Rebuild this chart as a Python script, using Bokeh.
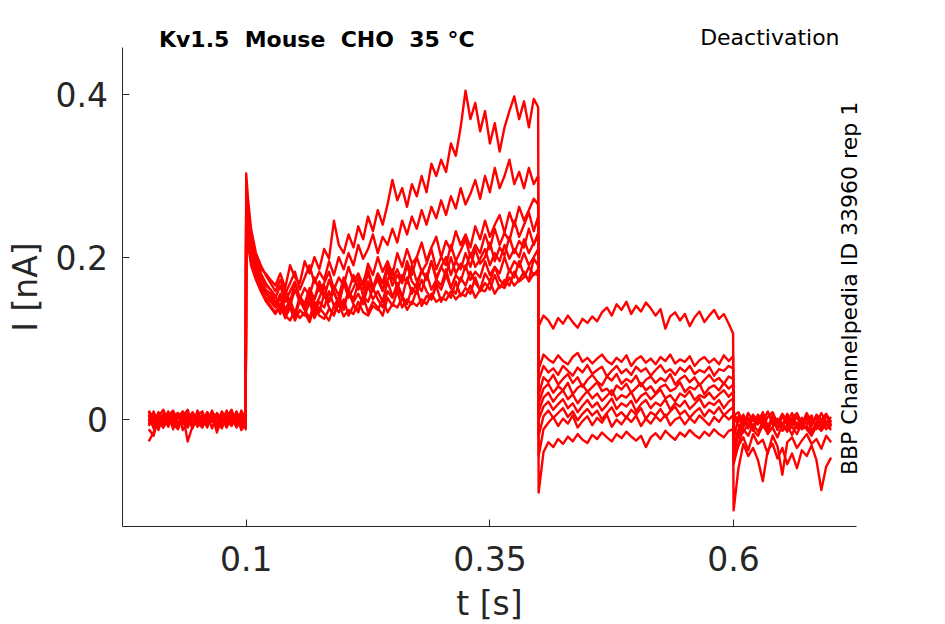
import math
from bokeh.plotting import figure
from bokeh.models import Range1d, FixedTicker, NumeralTickFormatter, Label
from bokeh.embed import file_html
from bokeh.resources import INLINE

# ---------------- time grid [s] ----------------
t_base = [0.000, 0.005, 0.010, 0.015, 0.020, 0.025, 0.030, 0.035, 0.040, 0.045, 0.050,
          0.055, 0.060, 0.065, 0.070, 0.075, 0.080, 0.085, 0.090, 0.095, 0.0995]
t_step = [0.100, 0.102, 0.105, 0.110, 0.115, 0.120, 0.125, 0.130, 0.135, 0.140, 0.145,
          0.150, 0.155, 0.160, 0.165, 0.170, 0.175, 0.180, 0.185, 0.190, 0.195, 0.200,
          0.205, 0.210, 0.215, 0.220, 0.225, 0.230, 0.235, 0.240, 0.245, 0.250, 0.255,
          0.260, 0.265, 0.270, 0.275, 0.280, 0.285, 0.290, 0.295, 0.300, 0.305, 0.310,
          0.315, 0.320, 0.325, 0.330, 0.335, 0.340, 0.345, 0.350, 0.355, 0.360, 0.365,
          0.370, 0.375, 0.380, 0.385, 0.390, 0.395, 0.3995]
t_tail = [0.400, 0.405, 0.410, 0.415, 0.420, 0.425, 0.430, 0.435, 0.440, 0.445, 0.450,
          0.455, 0.460, 0.465, 0.470, 0.475, 0.480, 0.485, 0.490, 0.495, 0.500, 0.505,
          0.510, 0.515, 0.520, 0.525, 0.530, 0.535, 0.540, 0.545, 0.550, 0.555, 0.560,
          0.565, 0.570, 0.575, 0.580, 0.585, 0.590, 0.595, 0.5995]
t_post = [0.600, 0.605, 0.610, 0.615, 0.620, 0.625, 0.630, 0.635, 0.640, 0.645, 0.650,
          0.655, 0.660, 0.665, 0.670, 0.675, 0.680, 0.685, 0.690, 0.695, 0.700]
t_s = t_base + t_step + t_tail + t_post

# ---------------- current sweeps [nA] (baseline / step / tail / after) ----------------
sweep_01 = [0.004, -0.007, 0.009, -0.002, 0.006, -0.009, 0.003, 0.010, -0.005, 0.001, -0.008,
            0.007, -0.003, 0.011, -0.006, 0.002, -0.010, 0.005, -0.001, 0.008, -0.004,
            0.27, 0.255, 0.225, 0.2, 0.185, 0.18, 0.172, 0.165, 0.18, 0.162, 0.19, 0.175, 0.168,
            0.195, 0.18, 0.2, 0.185, 0.21, 0.198, 0.245, 0.215, 0.205, 0.228, 0.212, 0.238, 0.222,
            0.25, 0.232, 0.258, 0.24, 0.265, 0.295, 0.27, 0.285, 0.262, 0.29, 0.275, 0.3, 0.28,
            0.315, 0.3, 0.32, 0.305, 0.34, 0.325, 0.36, 0.405, 0.37, 0.39, 0.355, 0.38, 0.34,
            0.365, 0.33, 0.36, 0.38, 0.398, 0.37, 0.392, 0.36, 0.395, 0.385,
            0.115, 0.128, 0.122, 0.112, 0.125, 0.118, 0.128, 0.12, 0.113, 0.124, 0.119, 0.127,
            0.121, 0.132, 0.138, 0.128, 0.142, 0.135, 0.145, 0.13, 0.14, 0.133, 0.144, 0.137,
            0.128, 0.136, 0.112, 0.127, 0.132, 0.122, 0.13, 0.115, 0.126, 0.133, 0.12, 0.128,
            0.135, 0.124, 0.13, 0.118, 0.106,
            -0.025, 0.004, -0.006, 0.008, -0.002, 0.005, -0.009, 0.003, 0.009, -0.004, 0.006,
            -0.007, 0.002, 0.008, -0.005, 0.004, -0.008, 0.006, -0.001, 0.007, -0.003]
sweep_02 = [-0.006, 0.008, -0.001, -0.010, 0.005, 0.011, -0.004, 0.002, -0.009, 0.006, 0.000,
            -0.007, 0.009, -0.002, 0.004, -0.011, 0.007, -0.005, 0.010, -0.003, 0.006,
            0.303, 0.27, 0.235, 0.205, 0.19, 0.178, 0.168, 0.158, 0.172, 0.155, 0.168, 0.182,
            0.16, 0.175, 0.19, 0.168, 0.182, 0.172, 0.195, 0.178, 0.2, 0.185, 0.205, 0.19, 0.215,
            0.198, 0.21, 0.228, 0.205, 0.225, 0.215, 0.235, 0.218, 0.245, 0.228, 0.25, 0.235,
            0.258, 0.24, 0.262, 0.248, 0.27, 0.252, 0.275, 0.26, 0.285, 0.265, 0.278, 0.295,
            0.272, 0.3, 0.28, 0.31, 0.285, 0.3, 0.32, 0.29, 0.305, 0.285, 0.31, 0.29, 0.3,
            0.062, 0.08, 0.074, 0.07, 0.079, 0.072, 0.068, 0.077, 0.082, 0.071, 0.076, 0.069,
            0.075, 0.08, 0.072, 0.068, 0.076, 0.071, 0.079, 0.066, 0.074, 0.078, 0.07, 0.075,
            0.068, 0.077, 0.072, 0.08, 0.069, 0.074, 0.071, 0.078, 0.066, 0.073, 0.077, 0.07,
            0.075, 0.068, 0.079, 0.072, 0.078,
            -0.035, -0.012, 0.003, -0.007, 0.006, -0.004, 0.009, -0.01, 0.002, -0.005, 0.007,
            -0.002, -0.009, 0.005, -0.006, 0.008, -0.003, 0.001, -0.008, 0.004, -0.004]
sweep_03 = [0.009, -0.002, 0.005, -0.008, -0.003, 0.007, -0.010, 0.004, 0.012, -0.006, 0.003,
            -0.009, 0.001, 0.006, -0.012, 0.008, -0.004, 0.003, -0.007, 0.011, -0.001,
            0.25, 0.24, 0.21, 0.19, 0.175, 0.165, 0.16,
            0.15, 0.165, 0.145, 0.158, 0.17, 0.148, 0.162, 0.152, 0.175, 0.158, 0.168, 0.182,
            0.16, 0.175, 0.165, 0.188, 0.17, 0.18, 0.165, 0.192, 0.178, 0.2, 0.182, 0.195, 0.178,
            0.205, 0.188, 0.21, 0.192, 0.2, 0.218, 0.195, 0.212, 0.225, 0.2, 0.22, 0.208, 0.232,
            0.215, 0.228, 0.212, 0.238, 0.222, 0.245, 0.225, 0.24, 0.252, 0.23, 0.255, 0.238,
            0.262, 0.245, 0.258, 0.272, 0.265,
            0.048, 0.066, 0.058, 0.063, 0.055, 0.066, 0.06, 0.054, 0.064, 0.058, 0.067, 0.056,
            0.061, 0.065, 0.053, 0.06, 0.066, 0.057, 0.062, 0.055, 0.065, 0.059, 0.063, 0.054,
            0.061, 0.067, 0.058, 0.062, 0.055, 0.064, 0.059, 0.066, 0.056, 0.061, 0.058, 0.065,
            0.054, 0.062, 0.06, 0.066, 0.063,
            0.005, 0.009, -0.004, 0.002, -0.01, 0.006, -0.003, 0.01, -0.006, 0.001, -0.008,
            0.007, -0.002, 0.004, -0.011, 0.005, 0.0, -0.006, 0.008, -0.004, 0.003]
sweep_04 = [-0.012, -0.020, 0.003, -0.005, 0.008, -0.002, -0.011, 0.006, -0.027, -0.008, 0.004,
            -0.006, 0.009, -0.003, 0.002, -0.010, 0.005, -0.001, 0.007, -0.009, 0.003,
            0.26, 0.245, 0.215, 0.185, 0.17, 0.16, 0.155,
            0.145, 0.132, 0.152, 0.14, 0.16, 0.145, 0.138, 0.158, 0.148, 0.165, 0.15, 0.172,
            0.155, 0.145, 0.168, 0.158, 0.178, 0.16, 0.17, 0.185, 0.162, 0.18, 0.168, 0.19, 0.172,
            0.185, 0.17, 0.195, 0.178, 0.2, 0.182, 0.192, 0.21, 0.185, 0.2, 0.19, 0.215, 0.195,
            0.208, 0.222, 0.2, 0.215, 0.205, 0.228, 0.21, 0.235, 0.215, 0.23, 0.22, 0.245, 0.225,
            0.24, 0.255, 0.232, 0.25,
            0.03, 0.052, 0.046, 0.055, 0.043, 0.05, 0.056, 0.045, 0.052, 0.04, 0.049, 0.055,
            0.047, 0.042, 0.053, 0.048, 0.056, 0.044, 0.05, 0.046, 0.054, 0.041, 0.049, 0.053,
            0.045, 0.051, 0.047, 0.056, 0.043, 0.05, 0.054, 0.046, 0.052, 0.042, 0.049, 0.055,
            0.047, 0.051, 0.044, 0.053, 0.05,
            -0.045, -0.018, -0.002, -0.009, 0.004, -0.006, 0.002, -0.012, 0.005, -0.003, -0.009,
            0.003, -0.006, 0.006, -0.01, 0.001, -0.005, 0.004, -0.011, -0.002, -0.006]
sweep_05 = [0.011, 0.001, -0.006, 0.007, -0.009, 0.004, 0.008, -0.003, 0.002, -0.011, 0.006,
            0.010, -0.005, 0.000, 0.007, -0.008, 0.003, 0.012, -0.006, 0.004, -0.002,
            0.24, 0.225, 0.2, 0.18, 0.165, 0.155, 0.148,
            0.14, 0.155, 0.135, 0.148, 0.13, 0.152, 0.142, 0.16, 0.138, 0.15, 0.165, 0.145,
            0.158, 0.14, 0.168, 0.15, 0.162, 0.175, 0.152, 0.17, 0.158, 0.178, 0.16, 0.172, 0.185,
            0.162, 0.178, 0.168, 0.19, 0.17, 0.182, 0.175, 0.195, 0.172, 0.188, 0.2, 0.178, 0.195,
            0.185, 0.205, 0.188, 0.21, 0.192, 0.2, 0.218, 0.195, 0.212, 0.202, 0.225, 0.205, 0.22,
            0.212, 0.235, 0.215, 0.23,
            0.02, 0.038, 0.044, 0.033, 0.041, 0.036, 0.045, 0.031, 0.039, 0.043, 0.034, 0.04,
            0.046, 0.035, 0.038, 0.03, 0.042, 0.037, 0.044, 0.033, 0.039, 0.045, 0.036, 0.041,
            0.032, 0.04, 0.043, 0.035, 0.038, 0.046, 0.034, 0.04, 0.037, 0.044, 0.031, 0.039,
            0.042, 0.036, 0.045, 0.038, 0.043,
            0.008, -0.003, 0.006, -0.011, 0.003, -0.005, 0.007, -0.008, 0.001, -0.013, 0.004,
            -0.004, 0.008, -0.009, 0.002, -0.006, 0.005, -0.012, 0.0, 0.006, -0.008]
sweep_06 = [-0.003, 0.010, -0.008, 0.002, 0.006, -0.005, -0.012, 0.009, -0.001, 0.005, -0.007,
            0.003, -0.010, 0.008, 0.004, -0.003, 0.011, -0.006, 0.001, -0.009, 0.008,
            0.28, 0.26, 0.22, 0.195, 0.18, 0.168, 0.16,
            0.152, 0.138, 0.16, 0.145, 0.168, 0.15, 0.142, 0.162, 0.148, 0.17, 0.155, 0.145,
            0.165, 0.152, 0.175, 0.158, 0.148, 0.168, 0.16, 0.18, 0.162, 0.172, 0.158, 0.185,
            0.165, 0.178, 0.168, 0.19, 0.17, 0.162, 0.185, 0.172, 0.195, 0.175, 0.188, 0.178, 0.2,
            0.18, 0.192, 0.185, 0.205, 0.188, 0.198, 0.21, 0.19, 0.205, 0.195, 0.215, 0.198, 0.21,
            0.2, 0.222, 0.205, 0.218, 0.225,
            0.01, 0.027, 0.033, 0.022, 0.03, 0.036, 0.025, 0.031, 0.02, 0.028, 0.035, 0.026,
            0.032, 0.023, 0.029, 0.036, 0.024, 0.03, 0.027, 0.034, 0.021, 0.029, 0.033, 0.025,
            0.031, 0.037, 0.026, 0.03, 0.022, 0.032, 0.028, 0.035, 0.024, 0.03, 0.027, 0.033,
            0.025, 0.031, 0.036, 0.028, 0.034,
            -0.012, -0.022, -0.009, 0.002, -0.014, 0.001, -0.008, -0.016, 0.003, -0.01, -0.004,
            -0.015, 0.0, -0.011, -0.006, 0.002, -0.013, -0.007, -0.002, -0.012, -0.005]
sweep_07 = [0.006, -0.011, 0.004, 0.012, -0.004, 0.001, -0.007, 0.005, -0.010, 0.009, -0.002,
            0.004, -0.008, 0.006, -0.016, 0.003, -0.005, 0.009, -0.002, 0.006, -0.012,
            0.235, 0.22, 0.195, 0.175, 0.16, 0.15, 0.145,
            0.138, 0.15, 0.13, 0.142, 0.125, 0.148, 0.135, 0.152, 0.13, 0.145, 0.138, 0.158,
            0.14, 0.15, 0.135, 0.16, 0.145, 0.155, 0.142, 0.165, 0.148, 0.158, 0.145, 0.17, 0.152,
            0.162, 0.15, 0.175, 0.155, 0.168, 0.158, 0.18, 0.16, 0.172, 0.165, 0.185, 0.162,
            0.178, 0.17, 0.19, 0.172, 0.182, 0.175, 0.195, 0.178, 0.188, 0.18, 0.2, 0.182, 0.195,
            0.188, 0.205, 0.19, 0.2, 0.21,
            0.0, 0.016, 0.022, 0.012, 0.019, 0.025, 0.014, 0.02, 0.009, 0.017, 0.024, 0.015,
            0.021, 0.011, 0.018, 0.026, 0.013, 0.02, 0.016, 0.023, 0.01, 0.019, 0.024, 0.014,
            0.021, 0.017, 0.025, 0.012, 0.02, 0.016, 0.023, 0.013, 0.019, 0.026, 0.015, 0.021,
            0.018, 0.024, 0.014, 0.022, 0.026,
            -0.055, -0.03, -0.012, -0.02, -0.006, -0.015, -0.003, -0.018, -0.009, -0.001, -0.014,
            -0.007, -0.019, -0.004, -0.012, -0.008, -0.016, -0.003, -0.01, -0.006, -0.013]
sweep_08 = [-0.008, 0.003, -0.013, 0.006, 0.000, 0.009, -0.006, -0.001, 0.007, -0.009, 0.011,
            -0.004, 0.005, -0.011, 0.008, 0.001, -0.006, 0.004, -0.010, 0.002, 0.009,
            0.255, 0.235, 0.205, 0.18, 0.168, 0.158, 0.15,
            0.145, 0.13, 0.152, 0.138, 0.128, 0.148, 0.135, 0.125, 0.145, 0.132, 0.155, 0.138,
            0.128, 0.15, 0.14, 0.158, 0.142, 0.132, 0.152, 0.145, 0.162, 0.148, 0.138, 0.158,
            0.15, 0.168, 0.152, 0.142, 0.162, 0.155, 0.172, 0.158, 0.148, 0.168, 0.16, 0.178,
            0.162, 0.155, 0.175, 0.165, 0.182, 0.168, 0.16, 0.18, 0.17, 0.188, 0.172, 0.165, 0.185,
            0.175, 0.195, 0.178, 0.172, 0.198, 0.19,
            -0.02, 0.004, 0.011, 0.002, 0.008, 0.014, 0.003, 0.01, -0.001, 0.007, 0.013, 0.005,
            0.011, 0.0, 0.008, 0.015, 0.004, 0.009, 0.002, 0.012, 0.006, 0.014, 0.001, 0.009,
            0.005, 0.013, 0.003, 0.01, 0.016, 0.006, 0.011, 0.002, 0.009, 0.014, 0.004, 0.012,
            0.007, 0.015, 0.005, 0.011, 0.015,
            0.004, -0.008, -0.016, -0.005, -0.013, -0.02, -0.007, -0.015, -0.01, -0.022, -0.006,
            -0.014, -0.009, -0.018, -0.004, -0.012, -0.02, -0.008, -0.014, -0.005, -0.01]
sweep_09 = [0.001, -0.009, 0.007, -0.004, 0.010, -0.012, 0.005, -0.006, 0.003, 0.008, -0.003,
            -0.010, 0.006, 0.002, -0.007, 0.010, -0.001, -0.008, 0.005, -0.013, -0.005,
            0.245, 0.23, 0.2, 0.178, 0.162, 0.148, 0.14,
            0.132, 0.142, 0.125, 0.138, 0.122, 0.135, 0.128, 0.145, 0.125, 0.138, 0.13, 0.122,
            0.14, 0.132, 0.148, 0.128, 0.14, 0.135, 0.152, 0.132, 0.145, 0.138, 0.128, 0.15, 0.14,
            0.158, 0.138, 0.148, 0.142, 0.16, 0.14, 0.152, 0.148, 0.165, 0.145, 0.158, 0.15, 0.17,
            0.152, 0.162, 0.155, 0.175, 0.158, 0.168, 0.16, 0.178, 0.162, 0.172, 0.165, 0.182,
            0.17, 0.175, 0.188, 0.178, 0.185,
            -0.045, -0.012, -0.004, 0.003, -0.008, 0.001, -0.005, 0.005, -0.01, -0.002, 0.004,
            -0.007, 0.002, -0.004, 0.006, -0.009, 0.0, -0.006, 0.003, -0.003, 0.005, -0.008,
            0.001, -0.005, 0.004, -0.002, 0.006, -0.007, 0.0, 0.003, -0.006, 0.002, -0.004,
            0.005, -0.001, -0.007, 0.003, -0.003, 0.006, 0.0, 0.005,
            -0.05, -0.032, -0.022, -0.038, -0.018, -0.03, -0.025, -0.042, -0.02, -0.033, -0.068,
            -0.028, -0.022, -0.035, -0.026, -0.018, -0.03, -0.024, -0.036, -0.02, -0.028]
sweep_10 = [-0.027, -0.016, 0.002, -0.010, 0.005, -0.004, 0.008, -0.013, -0.002, 0.004, -0.009,
            0.001, -0.005, 0.007, -0.011, -0.003, 0.004, -0.007, 0.002, -0.006, -0.010,
            0.23, 0.215, 0.19, 0.172, 0.158, 0.146, 0.138,
            0.13, 0.14, 0.128, 0.122, 0.135, 0.125, 0.132, 0.12, 0.138, 0.128, 0.124, 0.136,
            0.13, 0.142, 0.127, 0.135, 0.13, 0.145, 0.132, 0.128, 0.14, 0.135, 0.148, 0.132,
            0.142, 0.138, 0.15, 0.135, 0.145, 0.14, 0.148, 0.142, 0.155, 0.145, 0.15, 0.147,
            0.158, 0.148, 0.155, 0.152, 0.165, 0.15, 0.16, 0.158, 0.17, 0.155, 0.165, 0.162,
            0.175, 0.165, 0.172, 0.182, 0.17, 0.18, 0.178,
            -0.09, -0.04, -0.028, -0.034, -0.024, -0.03, -0.021, -0.027, -0.018, -0.025, -0.029,
            -0.019, -0.024, -0.016, -0.022, -0.027, -0.018, -0.023, -0.015, -0.021, -0.026,
            -0.02, -0.034, -0.022, -0.017, -0.024, -0.014, -0.02, -0.025, -0.016, -0.021,
            -0.013, -0.019, -0.023, -0.015, -0.02, -0.012, -0.018, -0.022, -0.014, -0.012,
            -0.112, -0.06, -0.03, -0.045, -0.035, -0.05, -0.076, -0.038, -0.03, -0.048, -0.035,
            -0.055, -0.042, -0.06, -0.038, -0.045, -0.032, -0.05, -0.087, -0.058, -0.047]

sweeps = [sweep_01, sweep_02, sweep_03, sweep_04, sweep_05,
          sweep_06, sweep_07, sweep_08, sweep_09, sweep_10]

x_ticks = [0.1, 0.35, 0.6]
y_ticks = [0, 0.2, 0.4]
x_label = "t [s]"
y_label = "I [nA]"
title_text = "Kv1.5\u00a0 Mouse\u00a0 CHO\u00a0 35 °C"
protocol_text = "Deactivation"
source_text = "BBP Channelpedia ID 33960 rep 1"

FONT = "DejaVu Sans"
AX = "#262626"

# axes box (data units) and the whole drawing area
x_box = (-0.02639, 0.72608)
y_box = (-0.13182, 0.45867)

p = figure(width=945, height=624, min_border=0,
           x_range=Range1d(-0.15205, 0.81738), y_range=Range1d(-0.25256, 0.51620),
           output_backend="svg", toolbar_location=None)
p.title.visible = False
p.outline_line_color = None
p.grid.visible = False
p.background_fill_color = "white"
p.border_fill_color = "white"

p.xaxis.ticker = FixedTicker(ticks=x_ticks)
p.yaxis.ticker = FixedTicker(ticks=y_ticks)
p.xaxis.axis_label = x_label
p.yaxis.axis_label = y_label
p.xaxis.fixed_location = y_box[0]
p.yaxis.fixed_location = x_box[0]
p.xaxis.bounds = x_box
p.yaxis.bounds = y_box
for ax in (p.xaxis[0], p.yaxis[0]):
    ax.formatter = NumeralTickFormatter(format="0.[00]")
    ax.axis_line_color = AX
    ax.axis_line_width = 1
    ax.major_tick_line_color = AX
    ax.major_tick_in = 7
    ax.major_tick_out = 0
    ax.minor_tick_line_color = None
    ax.major_label_text_font = FONT
    ax.major_label_text_font_size = "33px"
    ax.major_label_text_color = AX
    ax.axis_label_text_font = FONT
    ax.axis_label_text_font_size = "33px"
    ax.axis_label_text_font_style = "normal"
    ax.axis_label_text_color = AX
p.yaxis.major_label_standoff = 15
p.yaxis.axis_label_standoff = 7
p.xaxis.major_label_standoff = 20
p.xaxis.axis_label_standoff = 9

xs = []
ys = []
for s in sweeps:
    n = min(len(t_s), len(s))
    xs.append(t_s[:n])
    ys.append(s[:n])
p.multi_line(xs=xs, ys=ys, line_color="#ff0000", line_width=2.4, line_join="round")

p.add_layout(Label(x=0.0105, y=0.4685, text=title_text, text_font=FONT,
                   text_font_style="bold", text_font_size="22px", text_color="black",
                   text_align="left", text_baseline="alphabetic"))
p.add_layout(Label(x=0.7087, y=0.4706, text=protocol_text, text_font=FONT,
                   text_font_size="22px", text_color="black",
                   text_align="right", text_baseline="alphabetic"))
p.add_layout(Label(x=0.7189, y=0.1614, angle=math.pi / 2, text=source_text, text_font=FONT,
                   text_font_size="22px", text_color="black",
                   text_align="center", text_baseline="alphabetic"))

open("out.html", "w").write(file_html(p, INLINE))
